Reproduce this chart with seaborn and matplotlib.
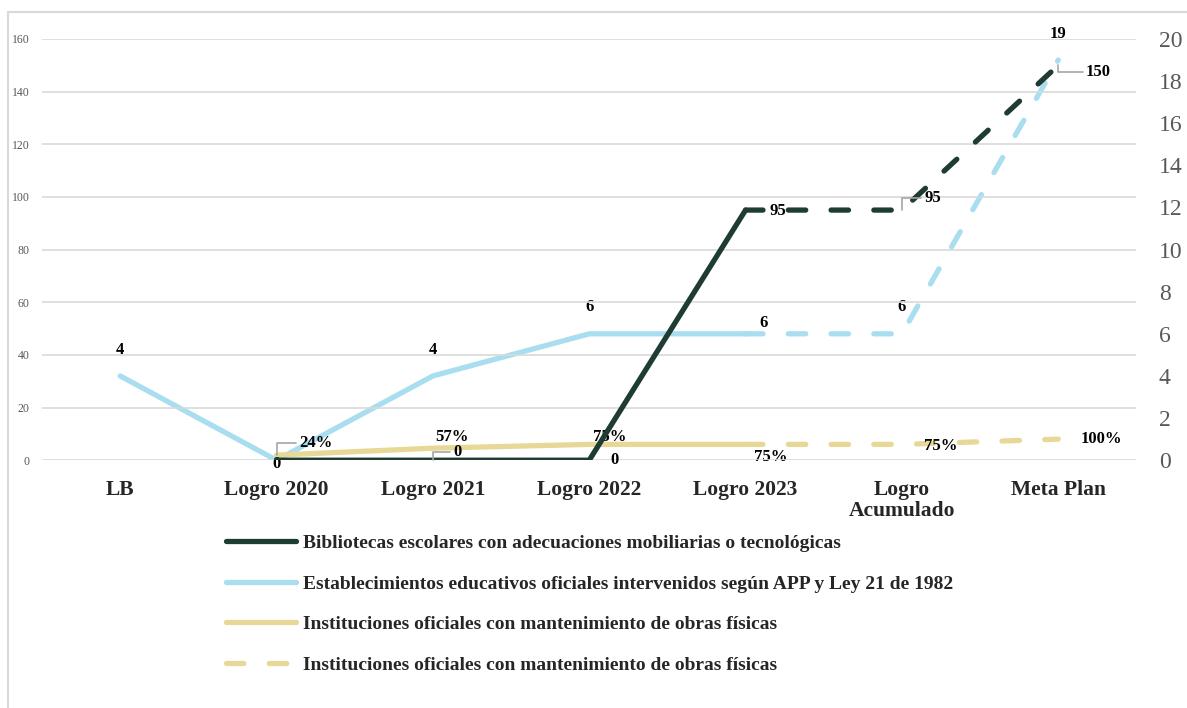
import numpy as np
import pandas as pd
import matplotlib
matplotlib.use('Agg')
import matplotlib.pyplot as plt
from matplotlib.lines import Line2D
from matplotlib.patches import Rectangle
import seaborn as sns

# data
categories = ['LB', 'Logro 2020', 'Logro 2021', 'Logro 2022', 'Logro 2023', 'Logro\nAcumulado', 'Meta Plan']
bibliotecas = [np.nan, 0, 0, 0, 95, np.nan, np.nan]
bibliotecas_proy = [np.nan, np.nan, np.nan, np.nan, 95, 95, 150]
establecimientos = [4, 0, 4, 6, 6, np.nan, np.nan]
establecimientos_proy = [np.nan, np.nan, np.nan, np.nan, 6, 6, 19]
instituciones = [np.nan, 0.24, 0.57, 0.75, 0.75, np.nan, np.nan]
instituciones_proy = [np.nan, np.nan, np.nan, np.nan, 0.75, 0.75, 1.00]

legend_labels = [
    'Bibliotecas escolares con adecuaciones mobiliarias o tecnológicas',
    'Establecimientos educativos oficiales intervenidos según APP y Ley 21 de 1982',
    'Instituciones oficiales con mantenimiento de obras físicas',
    'Instituciones oficiales con mantenimiento de obras físicas',
]

DARK = '#1e3b34'
BLUE = '#a9ddf0'
YELLOW = '#e8d897'
GRID = '#d9d9d9'
LW = 3.8
DASH = (3.3, 4.8)

sns.set_style('white')
plt.rcParams['font.family'] = ['Liberation Serif', 'DejaVu Serif']

x = np.arange(len(categories))
df = pd.DataFrame({
    'x': x,
    'bib': bibliotecas, 'bib_p': bibliotecas_proy,
    'est': establecimientos, 'est_p': establecimientos_proy,
    'ins': instituciones, 'ins_p': instituciones_proy,
})

fig = plt.figure(figsize=(11.87, 7.08), dpi=100)
ax = fig.add_axes([0.0354, 0.350, 0.922, 0.595])
ax2 = ax.twinx()
ax.set_zorder(ax2.get_zorder() + 1)
ax.patch.set_visible(False)

# right axis series (blue + yellow)
for col, color, dashed in [('est', BLUE, False), ('est_p', BLUE, True),
                           ('ins', YELLOW, False), ('ins_p', YELLOW, True)]:
    sns.lineplot(data=df, x='x', y=col, ax=ax2, color=color, linewidth=LW, legend=False)
    ln = ax2.lines[-1]
    ln.set_solid_capstyle('round')
    if dashed:
        ln.set_dashes(DASH)
        ln.set_dash_capstyle('round')

# left axis series (dark)
for col, dashed in [('bib', False), ('bib_p', True)]:
    sns.lineplot(data=df, x='x', y=col, ax=ax, color=DARK, linewidth=LW, legend=False)
    ln = ax.lines[-1]
    ln.set_solid_capstyle('round')
    if dashed:
        ln.set_dashes(DASH)
        ln.set_dash_capstyle('round')

ax.set_xlim(-0.5, len(categories) - 0.5)
ax.set_ylim(0, 160)
ax2.set_ylim(0, 20)
ax.set_yticks(np.arange(0, 161, 20))
ax2.set_yticks(np.arange(0, 21, 2))
ax.set_xticks(x)
ax.set_xticklabels(categories, fontsize=15.5, fontweight='bold', linespacing=1.12)
ax.tick_params(axis='x', length=0, pad=14)
ax.tick_params(axis='y', length=0, labelsize=8.5, labelcolor='#595959', pad=9)
ax2.tick_params(axis='y', length=0, labelsize=17, labelcolor='#595959', pad=16)
ax.set_xlabel('')
ax.set_ylabel('')
ax2.set_ylabel('')
ax.grid(axis='y', color=GRID, linewidth=1.2)
ax.grid(axis='x', visible=False)
for a in (ax, ax2):
    for s in a.spines.values():
        s.set_visible(False)

lab_kw = dict(textcoords='offset points', ha='center', va='center',
              fontsize=12, fontweight='bold', color='black', zorder=10)
lead = dict(arrowstyle='-', color='#a6a6a6', lw=1.2, shrinkA=0, shrinkB=0)
ANGLE = 'angle,angleA=0,angleB=90,rad=0'


def label(axis, xi, yi, text, dx, dy, leader=None):
    if leader:
        axis.annotate(text, xy=(xi, yi), xytext=(dx, dy),
                      arrowprops=dict(lead, connectionstyle=leader), **lab_kw)
    else:
        axis.annotate(text, xy=(xi, yi), xytext=(dx, dy), **lab_kw)


# blue labels
est_all = [establecimientos[i] if not np.isnan(establecimientos[i]) else establecimientos_proy[i] for i in x]
est_off = [(0, 19), (0, -3), (0, 19), (0, 19), (13, 8), (0, 19), (0, 19)]
for i in x:
    label(ax2, i, est_all[i], f'{est_all[i]:.0f}', *est_off[i])

# dark labels (2020 shares the blue "0")
bib_all = [bibliotecas[i] if not np.isnan(bibliotecas[i]) else bibliotecas_proy[i] for i in x]
bib_off = {2: (18, 6, ANGLE),
           3: (18, 0, None),
           4: (23, -1, None),
           5: (22, 9, ANGLE),
           6: (29, -5, ANGLE)}
for i, (dx, dy, ld) in bib_off.items():
    label(ax, i, bib_all[i], f'{bib_all[i]:.0f}', dx, dy, ld)

# yellow labels
ins_all = [instituciones[i] if not np.isnan(instituciones[i]) else instituciones_proy[i] for i in x]
ins_off = {1: (28, 9, ANGLE),
           2: (14, 8, None),
           3: (15, 5, None),
           4: (18, -9, None),
           5: (28, -1, None),
           6: (31, 0, None)}
for i, (dx, dy, ld) in ins_off.items():
    label(ax2, i, ins_all[i], f'{ins_all[i] * 100:.0f}%', dx, dy, ld)

# legend
handles = [
    Line2D([], [], color=DARK, linewidth=LW, solid_capstyle='round'),
    Line2D([], [], color=BLUE, linewidth=LW, solid_capstyle='round'),
    Line2D([], [], color=YELLOW, linewidth=LW, solid_capstyle='round'),
    Line2D([], [], color=YELLOW, linewidth=LW, dashes=DASH, dash_capstyle='round'),
]
fig.legend(handles, legend_labels, loc='upper left', bbox_to_anchor=(0.190, 0.245),
           frameon=False, prop=dict(family='Liberation Serif', weight='bold', size=14),
           handlelength=3.6, handletextpad=0.36, labelspacing=1.18, borderpad=0, borderaxespad=0)

# thin frame around the chart area
fig.patches.append(Rectangle((0.0067, -0.01), 1.2, 0.993, transform=fig.transFigure,
                             fill=False, edgecolor=GRID, linewidth=1.5))

fig.savefig('out.png', dpi=100)
